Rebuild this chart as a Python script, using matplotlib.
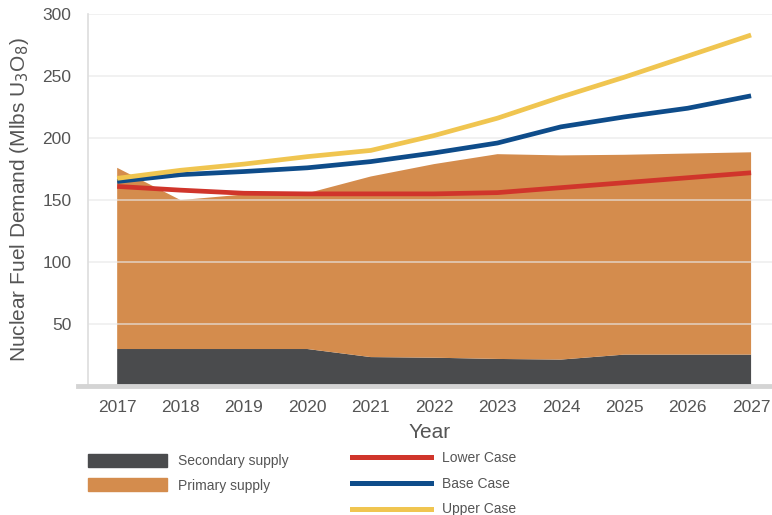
import numpy as np
import matplotlib.pyplot as plt
from matplotlib.patches import Patch
from matplotlib.lines import Line2D

plt.rcParams['font.family'] = ['Liberation Sans', 'DejaVu Sans']

# Years and supply / demand series (Mlbs U3O8)
years = [2017, 2018, 2019, 2020, 2021, 2022, 2023, 2024, 2025, 2026, 2027]
secondary_supply = [30, 30, 30, 30, 23.5, 23, 22, 21.5, 25.5, 25.5, 25.5]
primary_supply = [146, 120, 124.5, 125.5, 145.5, 156, 165, 164.5, 161, 162, 163]
lower_case = [161, 158, 155.5, 155, 155, 155, 156, 160, 164, 168, 172]
base_case = [165, 170.5, 173, 176, 181, 188, 196, 209, 217, 224, 234]
upper_case = [167.5, 174, 179, 185, 190, 202, 216, 233, 249, 266, 283]

c_sec = '#4a4b4d'
c_prim = '#d48c4d'
c_low = '#d0352b'
c_base = '#0e4c8a'
c_up = '#f0c550'
c_text = '#555555'

fig = plt.figure(figsize=(7.72, 5.15), dpi=100)
ax = fig.add_axes([0.114, 0.25, 0.886, 0.723])

ax.stackplot(years, secondary_supply, primary_supply, colors=[c_sec, c_prim],
             linewidth=0, zorder=1)

for v in [50, 100, 150, 200, 250, 300]:
    ax.axhline(v, color='#e8e8e8', lw=1.2, alpha=0.7, zorder=2)

ax.plot(years, lower_case, color=c_low, lw=3.4, zorder=3, solid_capstyle='butt')
ax.plot(years, base_case, color=c_base, lw=3.4, zorder=3, solid_capstyle='butt')
ax.plot(years, upper_case, color=c_up, lw=3.4, zorder=3, solid_capstyle='butt')

ax.set_xlim(2016.54, 2027.33)
ax.set_ylim(0, 300)
ax.set_yticks([50, 100, 150, 200, 250, 300])
ax.set_xticks(years)
ax.tick_params(length=0, labelsize=12.5, colors=c_text)
ax.tick_params(axis='y', pad=12)
ax.tick_params(axis='x', pad=10)

for s in ['top', 'right']:
    ax.spines[s].set_visible(False)
ax.spines['left'].set_color('#dddddd')
ax.spines['left'].set_linewidth(1.2)
ax.spines['bottom'].set_color('#d4d4d4')
ax.spines['bottom'].set_linewidth(3.5)
ax.spines['bottom'].set_bounds(2016.38, 2027.33)

ax.set_ylabel('Nuclear Fuel Demand (Mlbs U$_3$O$_8$)', fontsize=15, color=c_text, labelpad=8)
ax.set_xlabel('Year', fontsize=15, color=c_text, labelpad=6)

supply_handles = [Patch(color=c_sec, label='Secondary supply'),
                  Patch(color=c_prim, label='Primary supply')]
leg1 = fig.legend(handles=supply_handles, loc='upper left',
                  bbox_to_anchor=(0.098, 0.143), frameon=False, fontsize=10,
                  handlelength=5.7, handleheight=1.05, labelspacing=0.75,
                  handletextpad=0.8, labelcolor=c_text)

case_handles = [Line2D([], [], color=c_low, lw=3.6, label='Lower Case'),
                Line2D([], [], color=c_base, lw=3.6, label='Base Case'),
                Line2D([], [], color=c_up, lw=3.6, label='Upper Case')]
leg2 = fig.legend(handles=case_handles, loc='upper left',
                  bbox_to_anchor=(0.44, 0.149), frameon=False, fontsize=10,
                  handlelength=5.7, labelspacing=0.85, handletextpad=0.8,
                  labelcolor=c_text)

fig.savefig('out.png', dpi=100)
